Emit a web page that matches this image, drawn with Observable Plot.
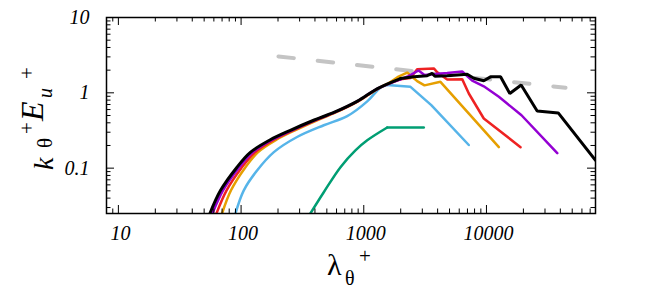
<!DOCTYPE html>
<html><head><meta charset="utf-8">
<script src="https://cdn.jsdelivr.net/npm/d3@7"></script>
<script src="https://cdn.jsdelivr.net/npm/@observablehq/plot@0.6"></script>
<style>body{margin:0;background:#fff;}</style>
</head><body><div id="chart"></div>
<script>
const xTickLabels = [10, 100, 1000, 10000];
const yTickLabels = [0.1, 1, 10];

const blackL = [55.7, 67.9, 91.6, 119, 173, 252, 382, 577, 889, 1294, 1991, 2558, 3289, 3610, 3800, 4786, 6966, 7888, 9510, 10790, 13030, 15500, 19180, 25900, 38460, 77400];
const blackE = [0.025, 0.0504, 0.1006, 0.162, 0.238, 0.318, 0.426, 0.553, 0.775, 1.138, 1.546, 1.63, 1.69, 1.81, 1.66, 1.69, 1.76, 1.56, 1.445, 1.63, 1.63, 0.98, 1.27, 0.575, 0.541, 0.127];

const purpleL = [58.4, 71.1, 95.5, 124, 179, 259, 389, 583, 892, 1294, 1991, 2312, 2793, 3126, 4786, 6340, 7650, 9510, 12620, 19300, 37770];
const purpleE = [0.025, 0.0504, 0.1006, 0.162, 0.238, 0.318, 0.426, 0.553, 0.775, 1.138, 1.51, 1.67, 1.98, 1.72, 1.83, 1.92, 1.45, 1.22, 0.885, 0.504, 0.158];

const redL = [63, 76, 100.7, 130, 185, 265, 396, 588, 897, 1306, 1991, 2404, 2723, 3722, 3990, 4786, 6340, 7180, 9510, 18960];
const redE = [0.025, 0.0504, 0.1006, 0.162, 0.238, 0.318, 0.426, 0.553, 0.775, 1.138, 1.51, 1.57, 2.05, 2.11, 1.86, 1.5, 1.52, 0.98, 0.456, 0.19];

const orangeL = [70, 82.6, 107.5, 137, 194, 275, 408, 598, 906, 1306, 1652, 1919, 2259, 2723, 3126, 4217, 12620];
const orangeE = [0.025, 0.0504, 0.1006, 0.162, 0.238, 0.318, 0.426, 0.553, 0.775, 1.138, 1.39, 1.64, 1.86, 1.43, 1.255, 1.40, 0.19];

const blueL = [90, 105, 135, 185, 286, 472, 733, 1067, 1368, 1553, 2404, 3550, 7180];
const blueE = [0.025, 0.0504, 0.093, 0.163, 0.259, 0.371, 0.49, 0.77, 1.17, 1.27, 1.2, 0.686, 0.203];

const greenL = [367, 472, 646, 855, 1067, 1553, 3083];
const greenE = [0.025, 0.0479, 0.103, 0.172, 0.234, 0.346, 0.346];

const refL = [201.6, 44100];
const refE = [3.04, 1.166];

// smoothN: number of leading points of the smooth (finely sampled) rising part
const seriesList = [
  {name: "green", L: greenL, E: greenE, color: "#009e73", w: 2.5, smoothN: 6},
  {name: "blue", L: blueL, E: blueE, color: "#56b4e9", w: 2.5, smoothN: 10},
  {name: "orange", L: orangeL, E: orangeE, color: "#e69f00", w: 2.5, smoothN: 11},
  {name: "red", L: redL, E: redE, color: "#ee2222", w: 2.5, smoothN: 11},
  {name: "purple", L: purpleL, E: purpleE, color: "#9400d3", w: 2.5, smoothN: 11},
  {name: "black", L: blackL, E: blackE, color: "#000000", w: 3, smoothN: 11}
];
const toRows = (L, E) => L.map((x, i) => ({x, y: E[i]}));

const xDomain = [8, 77400];
const yDomain = [0.025, 10];
const allX = d3.scaleLog().domain(xDomain).ticks();
const allY = d3.scaleLog().domain(yDomain).ticks();
const majX = allX.filter(d => xTickLabels.includes(d));
const minX = allX.filter(d => !xTickLabels.includes(d));
const majY = allY.filter(d => yTickLabels.includes(d));
const minY = allY.filter(d => !yTickLabels.includes(d));

const fh = 299 - 17 - 86, fw = 654 - 106 - 59;
const MAJ = 8, MIN = 4.5;
const tickMarks = [
  Plot.tickX(majX, {x: d => d, insetTop: fh - MAJ, stroke: "black", strokeWidth: 1}),
  Plot.tickX(majX, {x: d => d, insetBottom: fh - MAJ, stroke: "black", strokeWidth: 1}),
  Plot.tickX(minX, {x: d => d, insetTop: fh - MIN, stroke: "black", strokeWidth: 1}),
  Plot.tickX(minX, {x: d => d, insetBottom: fh - MIN, stroke: "black", strokeWidth: 1}),
  Plot.tickY(majY, {y: d => d, insetRight: fw - MAJ, stroke: "black", strokeWidth: 1}),
  Plot.tickY(majY, {y: d => d, insetLeft: fw - MAJ, stroke: "black", strokeWidth: 1}),
  Plot.tickY(minY, {y: d => d, insetRight: fw - MIN, stroke: "black", strokeWidth: 1}),
  Plot.tickY(minY, {y: d => d, insetLeft: fw - MIN, stroke: "black", strokeWidth: 1})
];

const lineMarks = [];
for (const s of seriesList) {
  const rows = toRows(s.L, s.E);
  lineMarks.push(Plot.line(rows.slice(0, s.smoothN), {x: "x", y: "y", stroke: s.color, strokeWidth: s.w, clip: true, curve: "catmull-rom"}));
  lineMarks.push(Plot.line(rows.slice(s.smoothN - 1), {x: "x", y: "y", stroke: s.color, strokeWidth: s.w, clip: true, strokeLinejoin: "miter"}));
}

const labelStyle = {fontSize: 20, fontStyle: "italic", fontFamily: "Liberation Serif", fill: "black"};

const plot = Plot.plot({
  width: 654, height: 299,
  marginLeft: 106, marginRight: 59, marginTop: 17, marginBottom: 86,
  x: {type: "log", domain: xDomain, axis: null},
  y: {type: "log", domain: yDomain, axis: null},
  style: {background: "white", fontFamily: "Liberation Serif"},
  marks: [
    Plot.line(toRows(refL, refE), {x: "x", y: "y", stroke: "#c4c4c4", strokeWidth: 4, strokeDasharray: "15.5,24", clip: true}),
    ...lineMarks,
    ...tickMarks,
    Plot.text(xTickLabels, {x: d => d, frameAnchor: "bottom", dy: 12, dx: 2, lineAnchor: "top", textAnchor: "middle", text: d => String(d), ...labelStyle}),
    Plot.text(yTickLabels, {y: d => d, frameAnchor: "left", dx: -17, textAnchor: "end", lineAnchor: "middle", text: d => String(d), ...labelStyle}),
    Plot.frame({stroke: "black", strokeWidth: 1.5})
  ]
});
document.getElementById("chart").appendChild(plot);

const svg = d3.select(plot);
function glyph(txt, px, py, size, italic, rotate) {
  svg.append("text")
    .attr("transform", rotate ? `translate(${px},${py}) rotate(-90)` : `translate(${px},${py})`)
    .attr("text-anchor", "start")
    .attr("font-family", "Liberation Serif")
    .attr("font-size", size)
    .attr("font-style", italic ? "italic" : "normal")
    .attr("fill", "black")
    .text(txt);
}
// y-axis title: k_θ^+ E_u^+ (rotated; px = baseline x, py = start y)
glyph("k", 53, 170, 28, true, true);
glyph("θ", 52, 148, 21, false, true);
glyph("+", 34, 134, 21, false, true);
glyph("E", 43, 121, 32, true, true);
glyph("u", 52, 98, 20, true, true);
glyph("+", 34, 79, 21, false, true);
// x-axis title: λ_θ^+ (px = start x, py = baseline y)
glyph("λ", 327, 275, 30, false, false);
glyph("θ", 345, 285, 20, false, false);
glyph("+", 359, 263, 21, false, false);
</script>
</body></html>
